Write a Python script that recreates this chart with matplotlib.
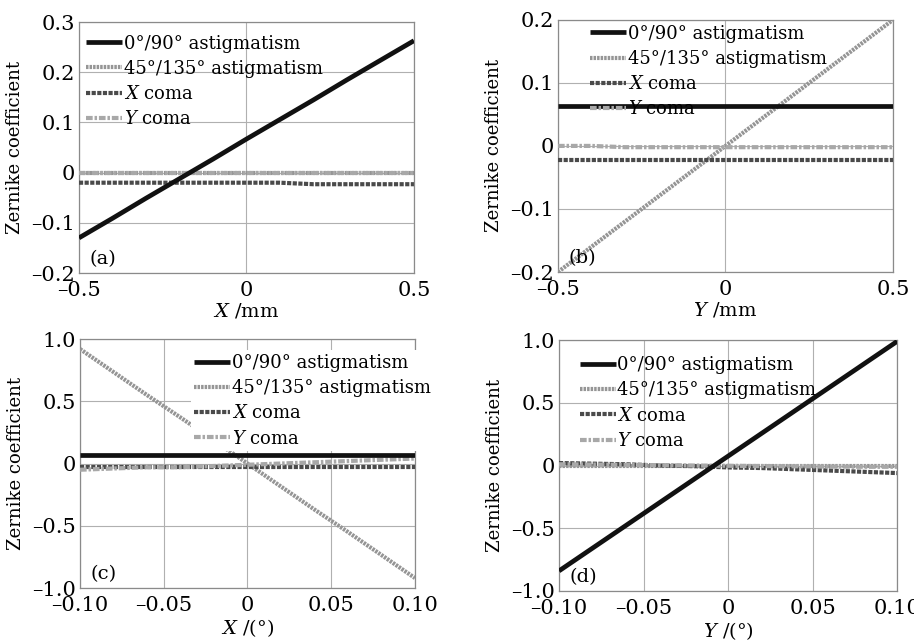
import matplotlib
matplotlib.use("Agg")
import matplotlib.pyplot as plt
import numpy as np

plt.rcParams['font.family'] = ['DejaVu Serif']
plt.rcParams['mathtext.fontset'] = 'dejavuserif'

labels = ["0°/90° astigmatism", "45°/135° astigmatism", r"$\it{X}$ coma", r"$\it{Y}$ coma"]

# Panel (a)
xa = [-0.5, -0.4, -0.3, -0.2, -0.1, 0.0, 0.1, 0.2, 0.3, 0.4, 0.5]
a_ast0 = [-0.130, -0.091, -0.051, -0.012, 0.027, 0.067, 0.106, 0.145, 0.185, 0.224, 0.263]
a_ast45 = [0.0, 0.0, 0.0, 0.0, 0.0, 0.0, 0.0, 0.0, 0.0, 0.0, 0.0]
a_xcoma = [-0.020, -0.020, -0.020, -0.020, -0.020, -0.020, -0.020, -0.023, -0.023, -0.023, -0.023]
a_ycoma = [0.0, 0.0, 0.0, 0.0, 0.0, 0.0, 0.0, 0.0, 0.0, 0.0, 0.0]

# Panel (b)
xb = [-0.5, -0.4, -0.3, -0.2, -0.1, 0.0, 0.1, 0.2, 0.3, 0.4, 0.5]
b_ast0 = [0.064, 0.064, 0.064, 0.064, 0.064, 0.064, 0.064, 0.064, 0.064, 0.064, 0.064]
b_ast45 = [-0.200, -0.160, -0.120, -0.080, -0.040, 0.0, 0.040, 0.080, 0.120, 0.160, 0.200]
b_xcoma = [-0.022, -0.022, -0.022, -0.022, -0.022, -0.022, -0.022, -0.022, -0.022, -0.022, -0.022]
b_ycoma = [0.0, 0.0, -0.002, -0.002, -0.002, -0.002, -0.002, -0.002, -0.002, -0.002, -0.002]

# Panel (c)
xc = [-0.10, -0.08, -0.06, -0.04, -0.02, 0.0, 0.02, 0.04, 0.06, 0.08, 0.10]
c_ast0 = [0.07, 0.07, 0.07, 0.07, 0.07, 0.07, 0.07, 0.07, 0.07, 0.07, 0.07]
c_ast45 = [0.92, 0.735, 0.55, 0.37, 0.185, 0.0, -0.185, -0.37, -0.55, -0.735, -0.92]
c_xcoma = [-0.03, -0.03, -0.03, -0.03, -0.03, -0.03, -0.03, -0.03, -0.03, -0.03, -0.03]
c_ycoma = [-0.05, -0.04, -0.03, -0.03, -0.02, -0.01, 0.0, 0.01, 0.02, 0.03, 0.04]

# Panel (d)
xd = [-0.10, -0.08, -0.06, -0.04, -0.02, 0.0, 0.02, 0.04, 0.06, 0.08, 0.10]
d_ast0 = [-0.84, -0.657, -0.474, -0.291, -0.108, 0.075, 0.258, 0.441, 0.624, 0.807, 0.99]
d_ast45 = [0.0, 0.0, 0.0, 0.0, 0.0, 0.0, 0.0, 0.0, 0.0, 0.0, 0.0]
d_xcoma = [0.02, 0.015, 0.01, 0.0, -0.005, -0.015, -0.02, -0.03, -0.04, -0.05, -0.06]
d_ycoma = [0.01, 0.008, 0.005, 0.003, 0.0, -0.002, -0.004, -0.006, -0.008, -0.01, -0.01]

panels = [
    dict(x=xa, s=[a_ast0, a_ast45, a_xcoma, a_ycoma], xlim=(-0.5, 0.5), ylim=(-0.2, 0.3),
         xt=[-0.5, 0, 0.5], xtl=["–0.5", "0", "0.5"],
         yt=[-0.2, -0.1, 0, 0.1, 0.2, 0.3], ytl=["–0.2", "–0.1", "0", "0.1", "0.2", "0.3"],
         xl=r"$\it{X}$ /mm", tag="(a)", rect=[0.0864, 0.5734, 0.3665, 0.392],
         leg=(0.01, 0.965), lalpha=0.0),
    dict(x=xb, s=[b_ast0, b_ast45, b_xcoma, b_ycoma], xlim=(-0.5, 0.5), ylim=(-0.2, 0.2),
         xt=[-0.5, 0, 0.5], xtl=["–0.5", "0", "0.5"],
         yt=[-0.2, -0.1, 0, 0.1, 0.2], ytl=["–0.2", "–0.1", "0", "0.1", "0.2"],
         xl=r"$\it{Y}$ /mm", tag="(b)", rect=[0.6105, 0.575, 0.3665, 0.394],
         leg=(0.085, 0.995), lalpha=0.0),
    dict(x=xc, s=[c_ast0, c_ast45, c_xcoma, c_ycoma], xlim=(-0.1, 0.1), ylim=(-1.0, 1.0),
         xt=[-0.1, -0.05, 0, 0.05, 0.1], xtl=["–0.10", "–0.05", "0", "0.05", "0.10"],
         yt=[-1.0, -0.5, 0, 0.5, 1.0], ytl=["–1.0", "–0.5", "0", "0.5", "1.0"],
         xl=r"$\it{X}$ /(°)", tag="(c)", rect=[0.0875, 0.08125, 0.3665, 0.389],
         leg=(0.33, 0.955), lalpha=1.0),
    dict(x=xd, s=[d_ast0, d_ast45, d_xcoma, d_ycoma], xlim=(-0.1, 0.1), ylim=(-1.0, 1.0),
         xt=[-0.1, -0.05, 0, 0.05, 0.1], xtl=["–0.10", "–0.05", "0", "0.05", "0.10"],
         yt=[-1.0, -0.5, 0, 0.5, 1.0], ytl=["–1.0", "–0.5", "0", "0.5", "1.0"],
         xl=r"$\it{Y}$ /(°)", tag="(d)", rect=[0.6116, 0.0766, 0.37, 0.392],
         leg=(0.05, 0.95), lalpha=0.0),
]

styles = [
    dict(color="#111111", lw=3.4, ls="-", zorder=5),
    dict(color="#959595", lw=3.0, ls=(0, (0.6, 0.25)), zorder=3),
    dict(color="#4a4a4a", lw=3.0, ls=(0, (1.0, 0.35)), zorder=4),
    dict(color="#a8a8a8", lw=3.0, ls=(0, (1.6, 0.45, 0.6, 0.45)), zorder=4),
]

fig = plt.figure(figsize=(9.14, 6.4), dpi=100)
for p in panels:
    ax = fig.add_axes(p["rect"])
    order = [1, 2, 3, 0]
    handles = [None] * 4
    for i in order:
        st = styles[i]
        h, = ax.plot(p["x"], p["s"][i], color=st["color"], lw=st["lw"], linestyle=st["ls"],
                     zorder=st["zorder"], label=labels[i], solid_capstyle="butt")
        handles[i] = h
    ax.set_xlim(*p["xlim"])
    ax.set_ylim(*p["ylim"])
    ax.set_xticks(p["xt"])
    ax.set_xticklabels(p["xtl"])
    ax.set_yticks(p["yt"])
    ax.set_yticklabels(p["ytl"])
    ax.tick_params(labelsize=15, length=0)
    ax.tick_params(axis="x", pad=6)
    ax.tick_params(axis="y", pad=3)
    ax.grid(True, color="#b0b0b0", lw=0.8)
    for sp in ax.spines.values():
        sp.set_color("#8a8a8a")
        sp.set_linewidth(0.9)
    ax.set_xlabel(p["xl"], fontsize=14, labelpad=1)
    ax.set_ylabel("Zernike coefficient", fontsize=13, labelpad=5)
    leg = ax.legend(handles=handles, loc="upper left", bbox_to_anchor=p["leg"],
                    fontsize=13, frameon=True, framealpha=p["lalpha"], edgecolor="none",
                    fancybox=False, handlelength=2.0, handletextpad=0.1,
                    labelspacing=0.4, borderpad=0.2, borderaxespad=0.0)
    leg.set_zorder(6)
    ax.text(0.03, 0.035, p["tag"], transform=ax.transAxes, fontsize=14, zorder=7)

fig.savefig("out.png", dpi=100)
